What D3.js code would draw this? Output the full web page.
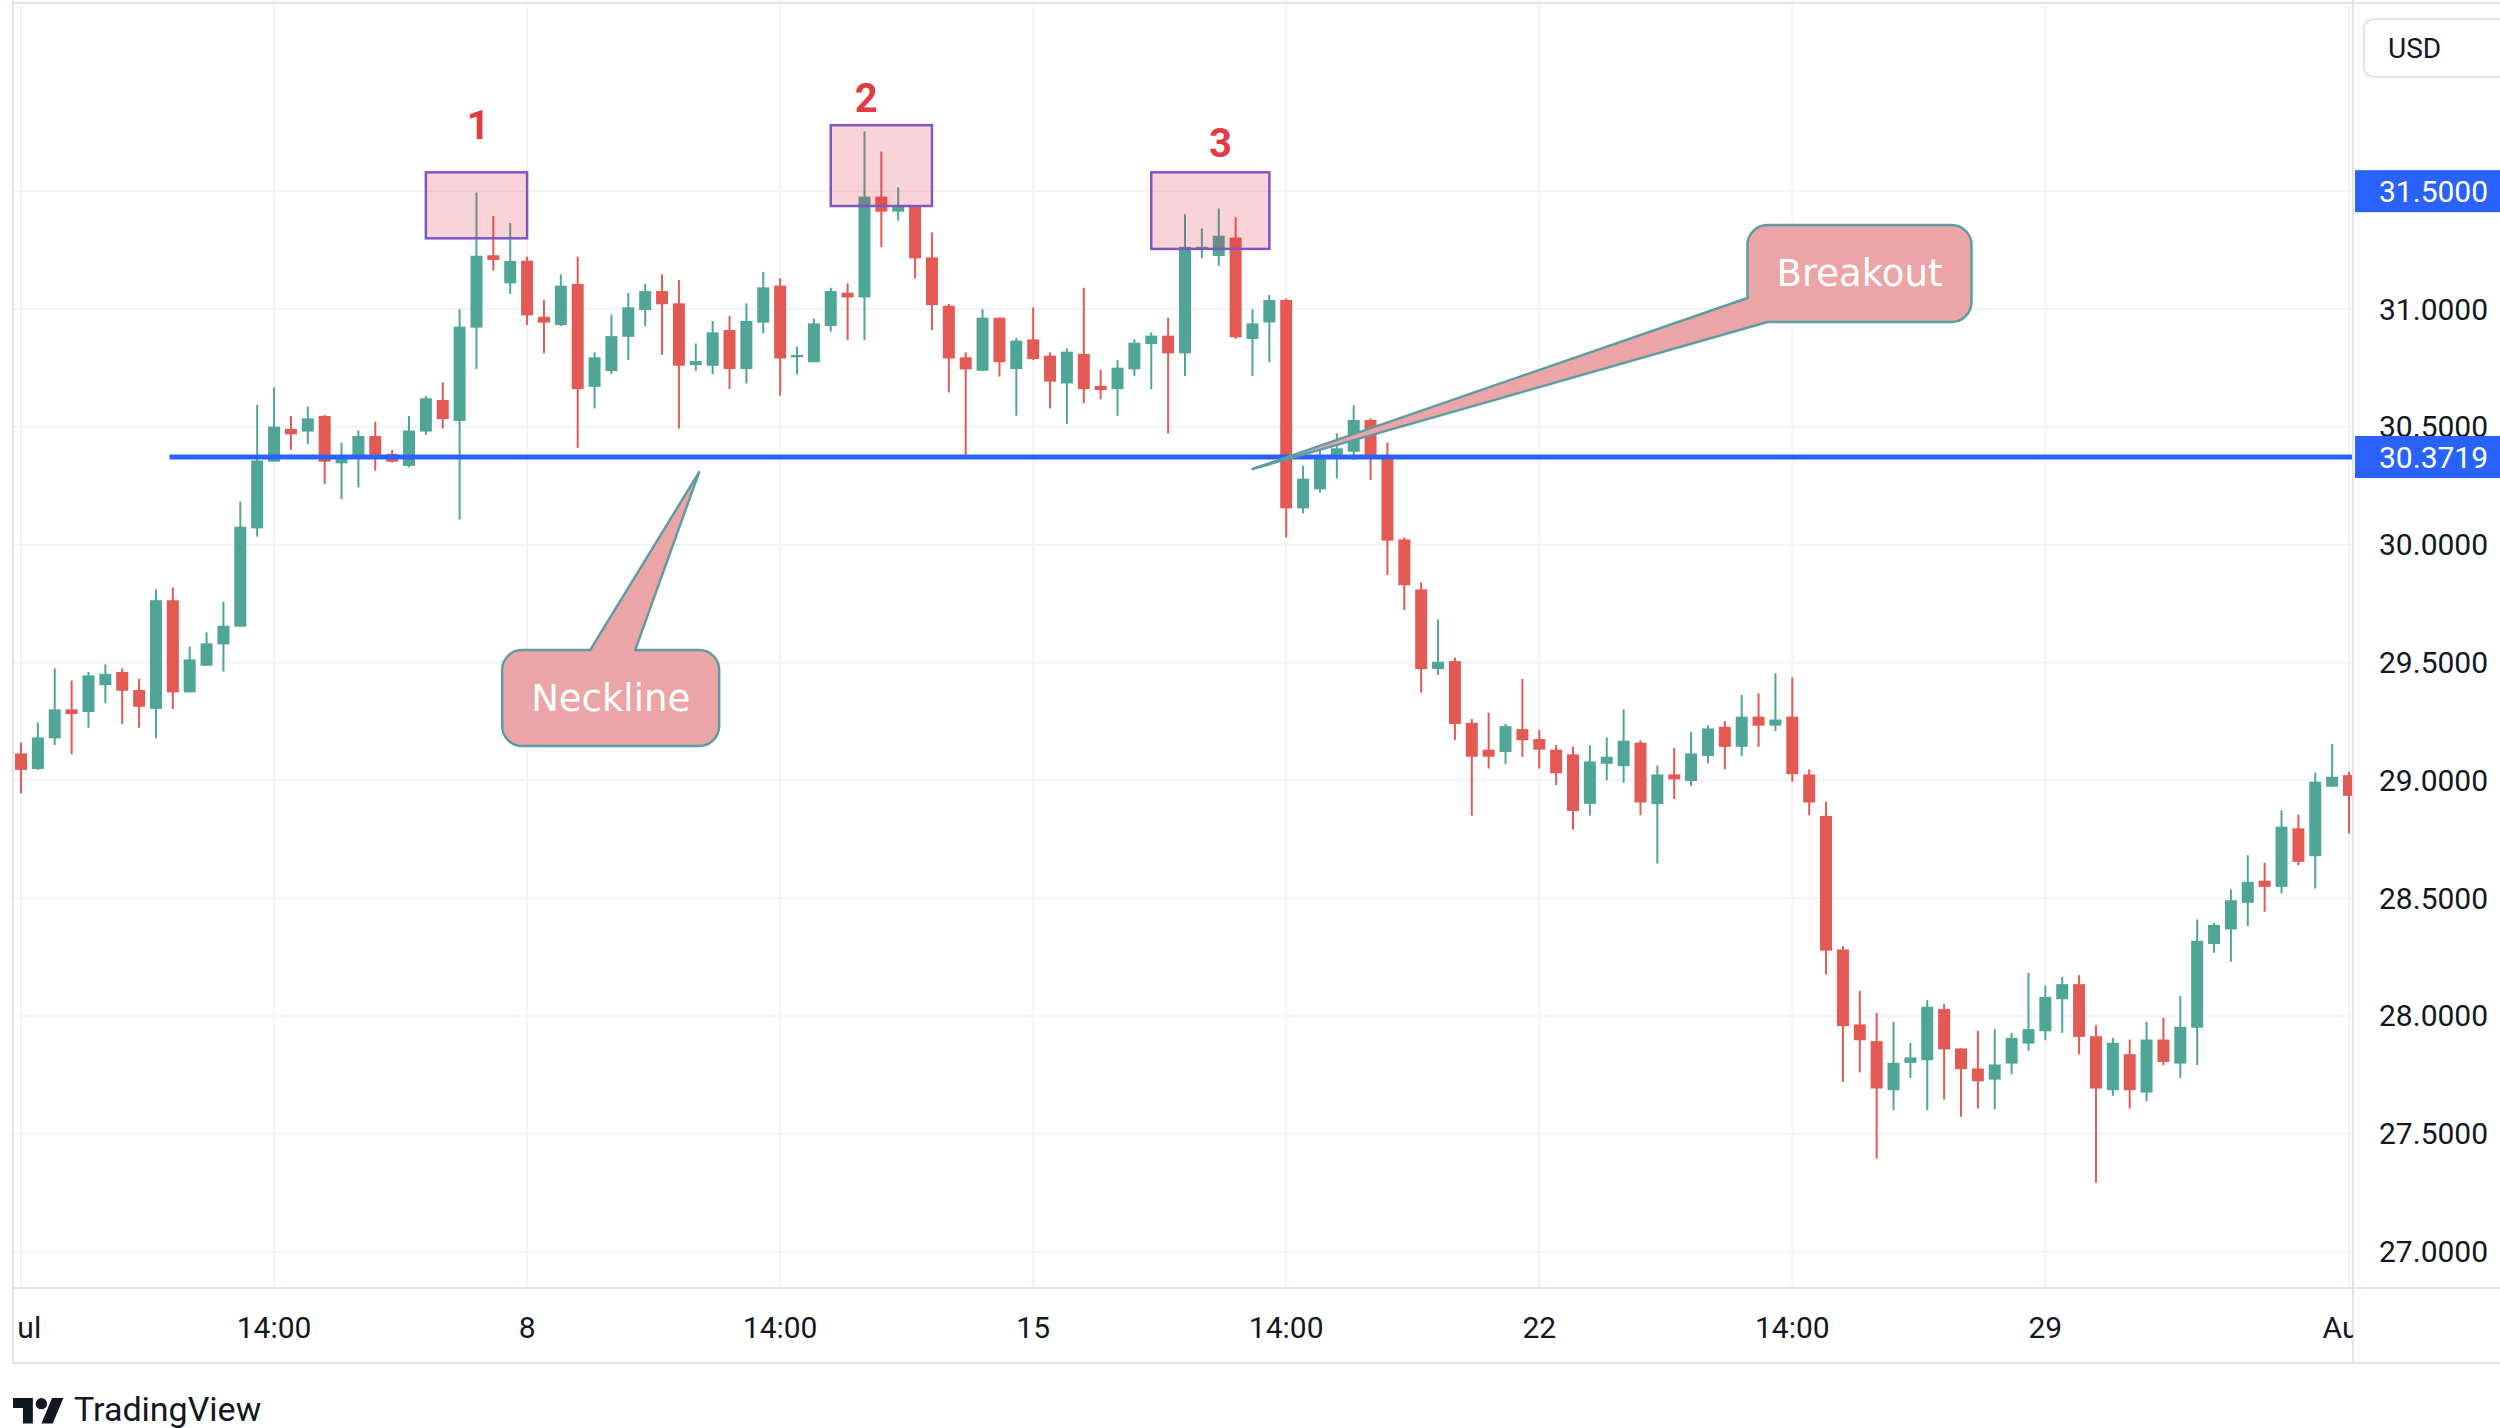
<!DOCTYPE html>
<html>
<head>
<meta charset="utf-8">
<script src="https://cdn.jsdelivr.net/npm/d3@7"></script>
<style>
    html, body { margin: 0; padding: 0; background: #ffffff; }
    svg { display: block; }
</style>
</head>
<body>
<div id="chartContainer"></div>
<script>
const CHART_WIDTH = 2500;
const CHART_HEIGHT = 1428;
const PLOT = { left: 13, right: 2353, top: 3, bottom: 1288 };
const TIME_AXIS_BOTTOM = 1363;
const UP_COLOR = "#4fa596";
const DOWN_COLOR = "#e25a53";
const BLUE = "#2962ff";
const TEXT_COLOR = "#131722";
const GRID_COLOR = "#f0f3fa";
const BORDER_COLOR = "#e0e3eb";

// 4h candles, XAG/USD, Jul 1 -> Aug 1
const openPrices = [
    29.114, 29.048, 29.178, 29.301, 29.290, 29.404, 29.460, 29.383, 29.303, 29.764,
    29.373, 29.486, 29.577, 29.652, 30.069, 30.352, 30.491, 30.480, 30.546, 30.345,
    30.367, 30.461, 30.385, 30.334, 30.480, 30.614, 30.525, 30.921, 31.228, 31.109,
    31.205, 30.967, 30.932, 31.106, 30.670, 30.737, 30.882, 30.996, 31.076, 31.024,
    30.762, 30.759, 30.911, 30.745, 30.942, 31.099, 30.795, 30.774, 30.928, 31.069,
    31.049, 31.477, 31.413, 31.437, 31.219, 31.014, 30.795, 30.738, 30.963, 30.745,
    30.871, 30.802, 30.684, 30.809, 30.674, 30.660, 30.744, 30.851, 30.887, 30.812,
    31.255, 31.225, 31.303, 30.873, 30.943, 31.038, 30.154, 30.235, 30.366, 30.394,
    30.529, 30.366, 30.022, 29.810, 29.472, 29.506, 29.244, 29.130, 29.120, 29.217,
    29.175, 29.130, 29.110, 28.900, 29.070, 29.060, 29.160, 28.899, 29.025, 28.997,
    29.103, 29.227, 29.142, 29.270, 29.232, 29.270, 29.025, 28.849, 28.282, 27.964,
    27.893, 27.685, 27.801, 27.812, 28.029, 27.862, 27.777, 27.730, 27.798, 27.883,
    27.935, 28.071, 28.135, 27.914, 27.685, 27.838, 27.675, 27.900, 27.798, 27.950,
    28.305, 28.367, 28.480, 28.574, 28.548, 28.796, 28.678, 28.973, 29.022
];
const highPrices = [
    29.160, 29.245, 29.475, 29.423, 29.460, 29.492, 29.475, 29.430, 29.810, 29.818,
    29.567, 29.628, 29.758, 30.183, 30.593, 30.668, 30.546, 30.586, 30.550, 30.433,
    30.484, 30.522, 30.402, 30.546, 30.631, 30.689, 30.999, 31.494, 31.395, 31.364,
    31.222, 31.038, 31.146, 31.222, 30.816, 30.977, 31.069, 31.107, 31.147, 31.123,
    30.854, 30.949, 30.970, 31.024, 31.158, 31.130, 30.840, 30.960, 31.090, 31.109,
    31.753, 31.668, 31.516, 31.440, 31.325, 31.021, 30.816, 30.999, 30.963, 30.878,
    31.007, 30.816, 30.833, 31.090, 30.741, 30.783, 30.871, 30.901, 30.963, 31.402,
    31.342, 31.427, 31.389, 30.999, 31.059, 31.044, 30.334, 30.402, 30.472, 30.592,
    30.536, 30.433, 30.031, 29.840, 29.683, 29.521, 29.260, 29.287, 29.240, 29.430,
    29.213, 29.150, 29.142, 29.149, 29.182, 29.301, 29.170, 29.062, 29.138, 29.206,
    29.234, 29.251, 29.362, 29.369, 29.454, 29.437, 29.046, 28.909, 28.296, 28.107,
    28.013, 27.975, 27.886, 28.067, 28.050, 27.862, 27.937, 27.944, 27.928, 28.183,
    28.128, 28.166, 28.173, 27.961, 27.907, 27.900, 27.975, 27.992, 28.084, 28.409,
    28.395, 28.537, 28.682, 28.650, 28.873, 28.855, 29.032, 29.154, 29.036
];
const lowPrices = [
    28.945, 29.044, 29.150, 29.110, 29.223, 29.327, 29.239, 29.223, 29.178, 29.303,
    29.373, 29.486, 29.461, 29.652, 30.034, 30.352, 30.402, 30.427, 30.258, 30.193,
    30.243, 30.314, 30.348, 30.328, 30.466, 30.493, 30.107, 30.745, 31.163, 31.064,
    30.932, 30.812, 30.928, 30.411, 30.578, 30.724, 30.783, 30.928, 30.805, 30.493,
    30.738, 30.723, 30.660, 30.684, 30.897, 30.632, 30.723, 30.774, 30.904, 30.868,
    30.868, 31.262, 31.375, 31.130, 30.911, 30.646, 30.380, 30.738, 30.713, 30.547,
    30.783, 30.578, 30.512, 30.600, 30.617, 30.547, 30.716, 30.660, 30.472, 30.716,
    31.215, 31.184, 30.873, 30.716, 30.774, 30.031, 30.133, 30.222, 30.281, 30.359,
    30.274, 29.871, 29.722, 29.372, 29.447, 29.171, 28.850, 29.050, 29.070, 29.100,
    29.050, 28.980, 28.790, 28.850, 29.000, 28.990, 28.852, 28.647, 28.920, 28.975,
    29.072, 29.047, 29.103, 29.142, 29.209, 28.994, 28.852, 28.176, 27.720, 27.760,
    27.395, 27.600, 27.737, 27.600, 27.645, 27.572, 27.607, 27.603, 27.752, 27.852,
    27.897, 27.928, 27.837, 27.292, 27.661, 27.607, 27.638, 27.791, 27.737, 27.791,
    28.268, 28.230, 28.381, 28.442, 28.520, 28.640, 28.541, 28.973, 28.774
];
const closePrices = [
    29.044, 29.182, 29.301, 29.281, 29.445, 29.452, 29.380, 29.312, 29.764, 29.373,
    29.513, 29.581, 29.656, 30.076, 30.357, 30.501, 30.468, 30.536, 30.352, 30.369,
    30.461, 30.381, 30.352, 30.484, 30.621, 30.533, 30.925, 31.226, 31.208, 31.204,
    30.973, 30.942, 31.099, 30.660, 30.795, 30.885, 31.007, 31.076, 31.020, 30.759,
    30.779, 30.901, 30.745, 30.949, 31.092, 30.790, 30.805, 30.939, 31.076, 31.049,
    31.477, 31.413, 31.434, 31.215, 31.017, 30.790, 30.744, 30.963, 30.774, 30.866,
    30.788, 30.692, 30.819, 30.660, 30.656, 30.751, 30.857, 30.887, 30.812, 31.264,
    31.264, 31.311, 30.880, 30.939, 31.038, 30.154, 30.280, 30.370, 30.409, 30.529,
    30.366, 30.017, 29.828, 29.472, 29.503, 29.239, 29.100, 29.100, 29.230, 29.170,
    29.130, 29.030, 28.870, 29.080, 29.100, 29.168, 28.906, 29.025, 29.004, 29.114,
    29.220, 29.142, 29.270, 29.232, 29.258, 29.026, 28.906, 28.277, 27.957, 27.897,
    27.692, 27.801, 27.824, 28.039, 27.858, 27.774, 27.723, 27.794, 27.907, 27.944,
    28.081, 28.135, 27.911, 27.692, 27.886, 27.685, 27.900, 27.805, 27.954, 28.319,
    28.386, 28.491, 28.569, 28.548, 28.803, 28.654, 28.994, 29.015, 28.934
];

const timeTickIndexes = [0, 15, 30, 45, 60, 75, 90, 105, 120, 138];
const timeTickLabels = ["Jul", "14:00", "8", "14:00", "15", "14:00", "22", "14:00", "29", "Aug"];
const priceTicks = [27.0, 27.5, 28.0, 28.5, 29.0, 29.5, 30.0, 30.5, 31.0, 31.5];
const highlightedPrices = [31.5, 30.3719];

// the three tops
const peakLabels = ["1", "2", "3"];
const peakBoxStart = [24, 48, 67];
const peakBoxEnd = [30, 54, 74];
const peakBoxTop = [31.58, 31.78, 31.58];
const peakBoxBottom = [31.30, 31.437, 31.255];
const peakLabelIndex = [27.1, 50.1, 71.1];
const peakLabelPrice = [31.72, 31.836, 31.645];

const necklinePrice = 30.3719;
const necklineStartIndex = 8.8;

const calloutTexts = ["Neckline", "Breakout"];
const calloutTipIndex = [40.2, 73.0];
const calloutTipPrice = [30.308, 30.321];

let xScale = d3.scaleLinear().domain([0, 138]).range([21, 2349]);
let yScale = d3.scaleLinear().domain([27, 31]).range([1251.6, 309]);

let svg = d3.select("#chartContainer").append("svg")
    .attr("width", CHART_WIDTH)
    .attr("height", CHART_HEIGHT)
    .attr("viewBox", "0 0 " + CHART_WIDTH + " " + CHART_HEIGHT);

svg.append("rect").attr("width", CHART_WIDTH).attr("height", CHART_HEIGHT).attr("fill", "#ffffff");

let defs = svg.append("defs");
defs.append("clipPath").attr("id", "plotClip")
    .append("rect")
    .attr("x", PLOT.left).attr("y", PLOT.top)
    .attr("width", PLOT.right - PLOT.left).attr("height", PLOT.bottom - PLOT.top);
defs.append("clipPath").attr("id", "timeAxisClip")
    .append("rect")
    .attr("x", PLOT.left + 4).attr("y", PLOT.bottom)
    .attr("width", PLOT.right - PLOT.left - 4).attr("height", TIME_AXIS_BOTTOM - PLOT.bottom);

// HELPERS
const drawGrid = () => {
    let grid = svg.append("g").attr("clip-path", "url(#plotClip)");
    grid.selectAll("line.hGrid")
        .data(priceTicks)
        .join("line")
        .attr("class", "hGrid")
        .attr("x1", PLOT.left).attr("x2", PLOT.right)
        .attr("y1", d => yScale(d)).attr("y2", d => yScale(d))
        .attr("stroke", GRID_COLOR).attr("stroke-width", 2);
    grid.selectAll("line.vGrid")
        .data(timeTickIndexes)
        .join("line")
        .attr("class", "vGrid")
        .attr("x1", d => xScale(d)).attr("x2", d => xScale(d))
        .attr("y1", PLOT.top).attr("y2", PLOT.bottom)
        .attr("stroke", GRID_COLOR).attr("stroke-width", 2);
}

const drawCandles = () => {
    let candles = openPrices.map((o, i) => ({
        i: i, o: o, h: highPrices[i], l: lowPrices[i], c: closePrices[i]
    }));
    let layer = svg.append("g").attr("clip-path", "url(#plotClip)");
    let bodyWidth = (xScale(1) - xScale(0)) * 0.71;
    let g = layer.selectAll("g.candle")
        .data(candles)
        .join("g")
        .attr("class", "candle")
        .attr("fill", d => d.c >= d.o ? UP_COLOR : DOWN_COLOR)
        .attr("stroke", d => d.c >= d.o ? UP_COLOR : DOWN_COLOR);
    g.append("line")
        .attr("x1", d => xScale(d.i)).attr("x2", d => xScale(d.i))
        .attr("y1", d => yScale(d.h)).attr("y2", d => yScale(d.l))
        .attr("stroke-width", 2);
    g.append("rect")
        .attr("x", d => xScale(d.i) - bodyWidth / 2)
        .attr("width", bodyWidth)
        .attr("y", d => yScale(Math.max(d.o, d.c)))
        .attr("height", d => Math.max(2, Math.abs(yScale(d.o) - yScale(d.c))))
        .attr("stroke", "none");
}

const drawPeakBoxes = () => {
    let layer = svg.append("g");
    layer.selectAll("rect.peakBox")
        .data(peakLabels)
        .join("rect")
        .attr("class", "peakBox")
        .attr("x", (d, i) => xScale(peakBoxStart[i]))
        .attr("width", (d, i) => xScale(peakBoxEnd[i]) - xScale(peakBoxStart[i]))
        .attr("y", (d, i) => yScale(peakBoxTop[i]))
        .attr("height", (d, i) => yScale(peakBoxBottom[i]) - yScale(peakBoxTop[i]))
        .attr("fill", "rgba(220, 40, 60, 0.2)")
        .attr("stroke", "#7e57c2")
        .attr("stroke-width", 2.5);
    layer.selectAll("text.peakLabel")
        .data(peakLabels)
        .join("text")
        .attr("class", "peakLabel")
        .attr("x", (d, i) => xScale(peakLabelIndex[i]))
        .attr("y", (d, i) => yScale(peakLabelPrice[i]))
        .attr("text-anchor", "middle")
        .attr("font-family", "Roboto, sans-serif")
        .attr("font-weight", "bold")
        .attr("font-size", 40)
        .attr("fill", "#e23b43")
        .text(d => d);
}

const drawNeckline = () => {
    svg.append("line")
        .attr("x1", xScale(necklineStartIndex)).attr("x2", PLOT.right)
        .attr("y1", yScale(necklinePrice)).attr("y2", yScale(necklinePrice))
        .attr("stroke", BLUE).attr("stroke-width", 5);
}

// callout bubble: rounded box with a pointer running to the tip
const bubblePath = (tip, box, r, pointerSide) => {
    let p = d3.path();
    let { x, y, w, h } = box;
    if (pointerSide == "top") {
        p.moveTo(tip[0], tip[1]);
        p.lineTo(x + 133, y);
        p.lineTo(x + w - r, y);
        p.arcTo(x + w, y, x + w, y + r, r);
        p.lineTo(x + w, y + h - r);
        p.arcTo(x + w, y + h, x + w - r, y + h, r);
        p.lineTo(x + r, y + h);
        p.arcTo(x, y + h, x, y + h - r, r);
        p.lineTo(x, y + r);
        p.arcTo(x, y, x + r, y, r);
        p.lineTo(x + 88, y);
        p.closePath();
    } else {
        p.moveTo(tip[0], tip[1]);
        p.lineTo(x, y + 73);
        p.lineTo(x, y + r);
        p.arcTo(x, y, x + r, y, r);
        p.lineTo(x + w - r, y);
        p.arcTo(x + w, y, x + w, y + r, r);
        p.lineTo(x + w, y + h - r);
        p.arcTo(x + w, y + h, x + w - r, y + h, r);
        p.lineTo(x + 20, y + h);
        p.closePath();
    }
    return p.toString();
}

const drawCallouts = () => {
    let boxOffsets = [
        { dx: -197, dy: 178, w: 217, h: 96, side: "top" },
        { dx: 495, dy: -244, w: 224, h: 97, side: "left" }
    ];
    calloutTexts.forEach((label, i) => {
        let tip = [xScale(calloutTipIndex[i]), yScale(calloutTipPrice[i])];
        let off = boxOffsets[i];
        let box = { x: tip[0] + off.dx, y: tip[1] + off.dy, w: off.w, h: off.h };
        svg.append("path")
            .attr("d", bubblePath(tip, box, 20, off.side))
            .attr("fill", "#eca5a6")
            .attr("stroke", "#5e9ca3")
            .attr("stroke-width", 2.5)
            .attr("stroke-linejoin", "round");
        svg.append("text")
            .attr("x", box.x + box.w / 2)
            .attr("y", box.y + box.h / 2)
            .attr("text-anchor", "middle")
            .attr("dominant-baseline", "central")
            .attr("font-family", "DejaVu Sans, sans-serif")
            .attr("font-size", 37)
            .attr("fill", "#ffffff")
            .text(label);
    });
}

const drawFrame = () => {
    let frame = svg.append("g").attr("stroke", BORDER_COLOR).attr("stroke-width", 2);
    frame.append("line").attr("x1", PLOT.left).attr("x2", PLOT.left).attr("y1", 0).attr("y2", TIME_AXIS_BOTTOM);
    frame.append("line").attr("x1", PLOT.left).attr("x2", CHART_WIDTH).attr("y1", PLOT.top).attr("y2", PLOT.top);
    frame.append("line").attr("x1", PLOT.right).attr("x2", PLOT.right).attr("y1", 0).attr("y2", TIME_AXIS_BOTTOM);
    frame.append("line").attr("x1", PLOT.left).attr("x2", CHART_WIDTH).attr("y1", PLOT.bottom).attr("y2", PLOT.bottom);
    frame.append("line").attr("x1", PLOT.left).attr("x2", CHART_WIDTH).attr("y1", TIME_AXIS_BOTTOM).attr("y2", TIME_AXIS_BOTTOM);
}

const drawTimeAxis = () => {
    svg.append("g").attr("clip-path", "url(#timeAxisClip)")
        .selectAll("text")
        .data(timeTickIndexes)
        .join("text")
        .attr("x", d => xScale(d))
        .attr("y", 1327)
        .attr("text-anchor", "middle")
        .attr("dominant-baseline", "central")
        .attr("font-family", "Roboto, sans-serif")
        .attr("font-size", 30)
        .attr("fill", TEXT_COLOR)
        .text((d, i) => timeTickLabels[i]);
}

const drawPriceAxis = () => {
    let axis = svg.append("g");
    axis.selectAll("text.priceTick")
        .data(priceTicks)
        .join("text")
        .attr("class", "priceTick")
        .attr("x", 2379)
        .attr("y", d => yScale(d))
        .attr("dominant-baseline", "central")
        .attr("font-family", "Roboto, sans-serif")
        .attr("font-size", 30)
        .attr("fill", TEXT_COLOR)
        .text(d => d.toFixed(4));

    let marks = axis.selectAll("g.priceMark")
        .data(highlightedPrices)
        .join("g")
        .attr("class", "priceMark");
    marks.append("rect")
        .attr("x", PLOT.right + 2).attr("width", CHART_WIDTH - PLOT.right)
        .attr("y", d => yScale(d) - 21).attr("height", 42)
        .attr("fill", BLUE);
    marks.append("text")
        .attr("x", 2379)
        .attr("y", d => yScale(d))
        .attr("dominant-baseline", "central")
        .attr("font-family", "Roboto, sans-serif")
        .attr("font-size", 30)
        .attr("fill", "#ffffff")
        .text(d => d.toFixed(4));

    axis.append("rect")
        .attr("x", 2364).attr("y", 19).attr("width", 170).attr("height", 58).attr("rx", 10)
        .attr("fill", "#ffffff").attr("stroke", BORDER_COLOR).attr("stroke-width", 2);
    axis.append("text")
        .attr("x", 2388).attr("y", 48)
        .attr("dominant-baseline", "central")
        .attr("font-family", "Roboto, sans-serif")
        .attr("font-size", 28)
        .attr("fill", TEXT_COLOR)
        .text("USD");
}

const drawBrand = () => {
    let logo = svg.append("g").attr("transform", "translate(13, 1392.3) scale(1.42)").attr("fill", TEXT_COLOR);
    logo.append("path").attr("d", "M14 22H7V11H0V4h14v18zM28 22h-8l7.5-18h8L28 22z");
    logo.append("circle").attr("cx", 20).attr("cy", 8).attr("r", 4);
    svg.append("text")
        .attr("x", 74).attr("y", 1421)
        .attr("font-family", "Roboto, sans-serif")
        .attr("font-size", 34)
        .attr("fill", TEXT_COLOR)
        .text("TradingView");
}

// DRAW
drawGrid();
drawCandles();
drawPeakBoxes();
drawNeckline();
drawFrame();
drawTimeAxis();
drawPriceAxis();
drawCallouts();
drawBrand();
</script>
</body>
</html>
